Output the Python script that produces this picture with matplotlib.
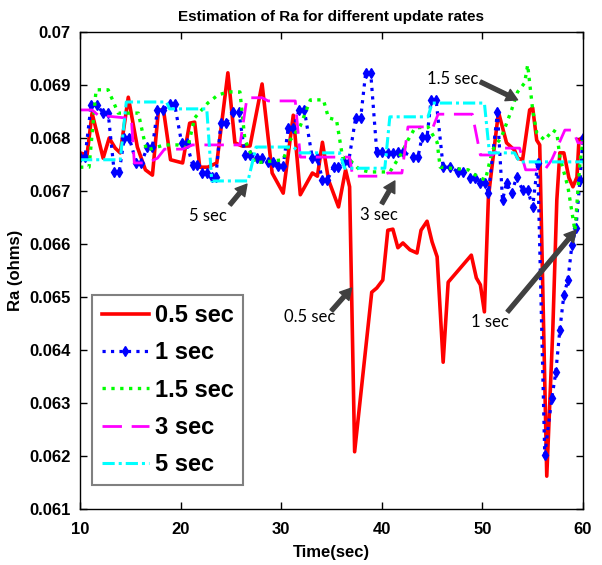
import matplotlib
matplotlib.use("Agg")
import matplotlib.pyplot as plt
from matplotlib.ticker import FuncFormatter

plt.rcParams['font.family'] = ['Liberation Sans', 'DejaVu Sans']

# 0.5 sec update rate
red_t = [10.0, 10.7, 11.2, 12.3, 12.9, 13.5, 14.0, 14.8, 15.7, 16.5,
         17.2, 17.8, 18.3, 19.0, 20.2, 20.9, 21.4, 21.9, 22.7, 23.6,
         24.7, 25.4, 26.1, 26.9, 28.1, 29.1, 30.2, 31.2, 31.9, 33.1,
         33.6, 34.1, 34.7, 35.7, 36.4, 36.8, 37.3, 39.0, 39.5, 40.1,
         40.6, 41.1, 41.6, 42.1, 42.8, 43.5, 43.9, 44.5, 45.0, 45.5,
         46.1, 46.6, 48.9, 49.4, 49.8, 50.2, 50.6, 51.6, 52.4, 53.2,
         53.5, 54.0, 54.7, 55.0, 55.4, 55.7, 56.4, 57.0, 57.4, 57.7,
         58.1, 58.6, 59.0, 59.4, 59.6, 60.0]
red_v = [0.06772, 0.06768, 0.06847, 0.06762, 0.06800, 0.06781, 0.06772, 0.06877, 0.06783, 0.06740,
         0.06730, 0.06853, 0.06853, 0.06759, 0.06753, 0.06828, 0.06830, 0.06745, 0.06745, 0.06753,
         0.06923, 0.06791, 0.06785, 0.06785, 0.06902, 0.06734, 0.06696, 0.06843, 0.06693, 0.06734,
         0.06728, 0.06792, 0.06721, 0.06670, 0.06740, 0.06708, 0.06208, 0.06509, 0.06517, 0.06532,
         0.06626, 0.06628, 0.06593, 0.06602, 0.06589, 0.06583, 0.06626, 0.06643, 0.06604, 0.06576,
         0.06377, 0.06528, 0.06579, 0.06536, 0.06523, 0.06472, 0.06689, 0.06849, 0.06791, 0.06777,
         0.06762, 0.06759, 0.06853, 0.06857, 0.06796, 0.06787, 0.06162, 0.06438, 0.06683, 0.06772,
         0.06772, 0.06725, 0.06708, 0.06726, 0.06796, 0.06802]

# 1 sec update rate
blue_t = [10.0, 10.5, 11.1, 11.7, 12.3, 12.8, 13.4, 13.9, 14.4, 14.9,
          15.6, 16.1, 16.7, 17.2, 17.7, 18.3, 18.9, 19.4, 20.1, 20.6,
          21.2, 21.6, 22.1, 22.6, 23.1, 23.5, 24.0, 24.5, 25.2, 25.8,
          26.4, 26.9, 27.6, 28.1, 28.7, 29.2, 29.7, 30.2, 30.7, 31.2,
          31.8, 32.3, 33.1, 33.6, 34.1, 34.6, 35.2, 35.6, 36.2, 36.7,
          37.4, 37.9, 38.4, 38.9, 39.5, 40.0, 40.6, 41.1, 41.6, 42.1,
          43.1, 43.6, 44.0, 44.5, 44.9, 45.4, 46.1, 46.8, 47.6, 48.1,
          48.8, 49.3, 49.8, 50.3, 50.6, 51.5, 52.0, 52.4, 52.9, 53.4,
          54.0, 54.5, 55.0, 55.5, 56.2, 56.9, 57.3, 57.7, 58.1, 58.5,
          58.9, 59.3, 59.7, 60.0]
blue_v = [0.06764, 0.06764, 0.06862, 0.06862, 0.06847, 0.06847, 0.06736, 0.06736, 0.06800, 0.06800,
          0.06753, 0.06753, 0.06783, 0.06783, 0.06853, 0.06853, 0.06864, 0.06864, 0.06791, 0.06791,
          0.06749, 0.06749, 0.06734, 0.06734, 0.06726, 0.06726, 0.06828, 0.06828, 0.06849, 0.06849,
          0.06768, 0.06768, 0.06762, 0.06762, 0.06755, 0.06755, 0.06747, 0.06747, 0.06819, 0.06819,
          0.06853, 0.06853, 0.06762, 0.06762, 0.06721, 0.06721, 0.06745, 0.06745, 0.06755, 0.06755,
          0.06838, 0.06838, 0.06923, 0.06923, 0.06774, 0.06774, 0.06772, 0.06772, 0.06774, 0.06774,
          0.06764, 0.06764, 0.06802, 0.06802, 0.06872, 0.06872, 0.06745, 0.06745, 0.06736, 0.06736,
          0.06725, 0.06725, 0.06715, 0.06715, 0.06696, 0.06849, 0.06683, 0.06715, 0.06696, 0.06726,
          0.06702, 0.06702, 0.06670, 0.06753, 0.06202, 0.06309, 0.06358, 0.06438, 0.06504, 0.06532,
          0.06598, 0.06630, 0.06721, 0.06800]

# 1.5 sec update rate
green_t = [10.0, 10.9, 11.6, 12.8, 13.8, 15.8, 16.6, 18.4, 19.7, 20.7,
           21.4, 22.7, 23.7, 24.7, 25.9, 26.4, 27.4, 30.2, 30.9, 31.9,
           32.9, 34.2, 34.7, 35.5, 36.1, 36.8, 37.8, 38.8, 40.8, 42.0,
           42.6, 43.3, 44.6, 45.5, 45.8, 48.6, 49.6, 50.3, 51.0, 51.9,
           52.9, 53.5, 54.2, 54.5, 55.0, 55.4, 56.2, 57.0, 57.4, 57.7,
           58.5, 59.2, 59.7, 60.0]
green_v = [0.06745, 0.06745, 0.06891, 0.06891, 0.06847, 0.06847, 0.06777, 0.06787, 0.06787, 0.06781,
           0.06838, 0.06866, 0.06881, 0.06887, 0.06887, 0.06796, 0.06753, 0.06759, 0.06796, 0.06823,
           0.06872, 0.06872, 0.06838, 0.06834, 0.06764, 0.06759, 0.06740, 0.06736, 0.06736, 0.06772,
           0.06796, 0.06819, 0.06821, 0.06792, 0.06745, 0.06740, 0.06726, 0.06721, 0.06777, 0.06802,
           0.06853, 0.06887, 0.06904, 0.06938, 0.06853, 0.06810, 0.06796, 0.06815, 0.06810, 0.06764,
           0.06708, 0.06625, 0.06753, 0.06796]

# 3 sec update rate
mag_t = [10.0, 11.2, 11.8, 14.5, 15.1, 15.4, 16.7, 17.7, 18.4, 20.2,
         21.2, 25.9, 26.6, 28.1, 28.7, 31.4, 31.9, 36.8, 37.1, 39.8,
         40.6, 42.0, 42.6, 45.1, 45.6, 49.0, 49.8, 51.0, 51.7, 53.7,
         54.3, 56.2, 56.9, 58.2, 59.0, 59.5, 60.0]
mag_v = [0.06853, 0.06853, 0.06843, 0.06838, 0.06838, 0.06753, 0.06753, 0.06762, 0.06779, 0.06779,
         0.06787, 0.06787, 0.06876, 0.06876, 0.06870, 0.06870, 0.06764, 0.06764, 0.06728, 0.06728,
         0.06734, 0.06734, 0.06821, 0.06821, 0.06845, 0.06845, 0.06768, 0.06768, 0.06781, 0.06781,
         0.06740, 0.06740, 0.06759, 0.06815, 0.06815, 0.06791, 0.06791]

# 5 sec update rate
cyan_t = [10.0, 14.0, 14.6, 18.6, 18.9, 22.6, 23.1, 26.7, 27.5, 31.2, 31.9,
          35.8, 36.3, 40.3, 40.8, 44.6, 45.0, 50.2, 50.7, 53.2, 53.7, 60.0]
cyan_v = [0.06759, 0.06759, 0.06868, 0.06868, 0.06855, 0.06855, 0.06719, 0.06719, 0.06783, 0.06783, 0.06772,
          0.06772, 0.06743, 0.06743, 0.06840, 0.06840, 0.06866, 0.06866, 0.06772, 0.06772, 0.06755, 0.06755]

labels = ['0.5 sec', '1 sec', '1.5 sec', '3 sec', '5 sec']

# annotation: label, text position, arrow tail, arrow head
notes = [
    ('5 sec', (22.7, 0.06653), (24.9, 0.06674), (26.6, 0.06713)),
    ('3 sec', (39.7, 0.06655), (40.0, 0.06676), (41.3, 0.06719)),
    ('0.5 sec', (32.8, 0.06462), (35.0, 0.06474), (37.0, 0.06517)),
    ('1 sec', (50.8, 0.06453), (52.5, 0.06472), (59.3, 0.06626)),
    ('1.5 sec', (47.0, 0.06911), (49.8, 0.06906), (53.5, 0.06872)),
]

fig = plt.figure(figsize=(6.02, 5.65), dpi=100)
ax = fig.add_axes([0.1329, 0.0991, 0.8355, 0.8442])

ax.plot(red_t, red_v, color='#FF0000', lw=2.6, label=labels[0])
ax.plot(blue_t, blue_v, color='#0000FF', lw=2.3, ls=':', marker='d',
        markersize=5, label=labels[1])
ax.plot(green_t, green_v, color='#00FF00', lw=2.4, ls=':', label=labels[2])
ax.plot(mag_t, mag_v, color='#FF00FF', lw=2.0, dashes=(7, 3.5), label=labels[3])
ax.plot(cyan_t, cyan_v, color='#00FFFF', lw=2.2, dashes=(4, 1.3, 1, 1.3), label=labels[4])

for txt, pos, tail, head in notes:
    ax.annotate('', xy=head, xytext=tail,
                arrowprops=dict(width=2.8, headwidth=9, headlength=8,
                                color='#404040', shrink=0))
    ax.text(pos[0], pos[1], txt, ha='center', va='center',
            fontsize=12, family=['Lato', 'DejaVu Sans'])

ax.set_xlim(10, 60)
ax.set_ylim(0.061, 0.07)
ax.set_xticks([10, 20, 30, 40, 50, 60])
ax.set_yticks([0.061 + 0.001 * i for i in range(10)])
ax.yaxis.set_major_formatter(FuncFormatter(lambda v, _: f'{v:.3f}'.rstrip('0')))
ax.tick_params(direction='in', top=True, right=True, length=5, width=1,
               labelsize=12)
ax.tick_params(axis='x', pad=9)
ax.tick_params(axis='y', pad=7)
for lab in ax.get_xticklabels() + ax.get_yticklabels():
    lab.set_fontweight('bold')
for s in ax.spines.values():
    s.set_linewidth(1)

ax.set_title('Estimation of Ra for different update rates', fontsize=11,
             fontweight='bold', pad=8)
ax.set_xlabel('Time(sec)', fontsize=12, fontweight='bold', labelpad=6)
ax.set_ylabel('Ra (ohms)', fontsize=12, fontweight='bold', labelpad=4)

leg = ax.legend(loc='upper left', bbox_to_anchor=(0.024, 0.449), borderaxespad=0,
                prop={'weight': 'bold', 'size': 17}, handlelength=2.0,
                handletextpad=0.25, labelspacing=0.6, borderpad=0.4,
                fancybox=False, framealpha=1, edgecolor='#808080', numpoints=1)
leg.get_frame().set_linewidth(1.5)

fig.savefig('out.png', dpi=100)
